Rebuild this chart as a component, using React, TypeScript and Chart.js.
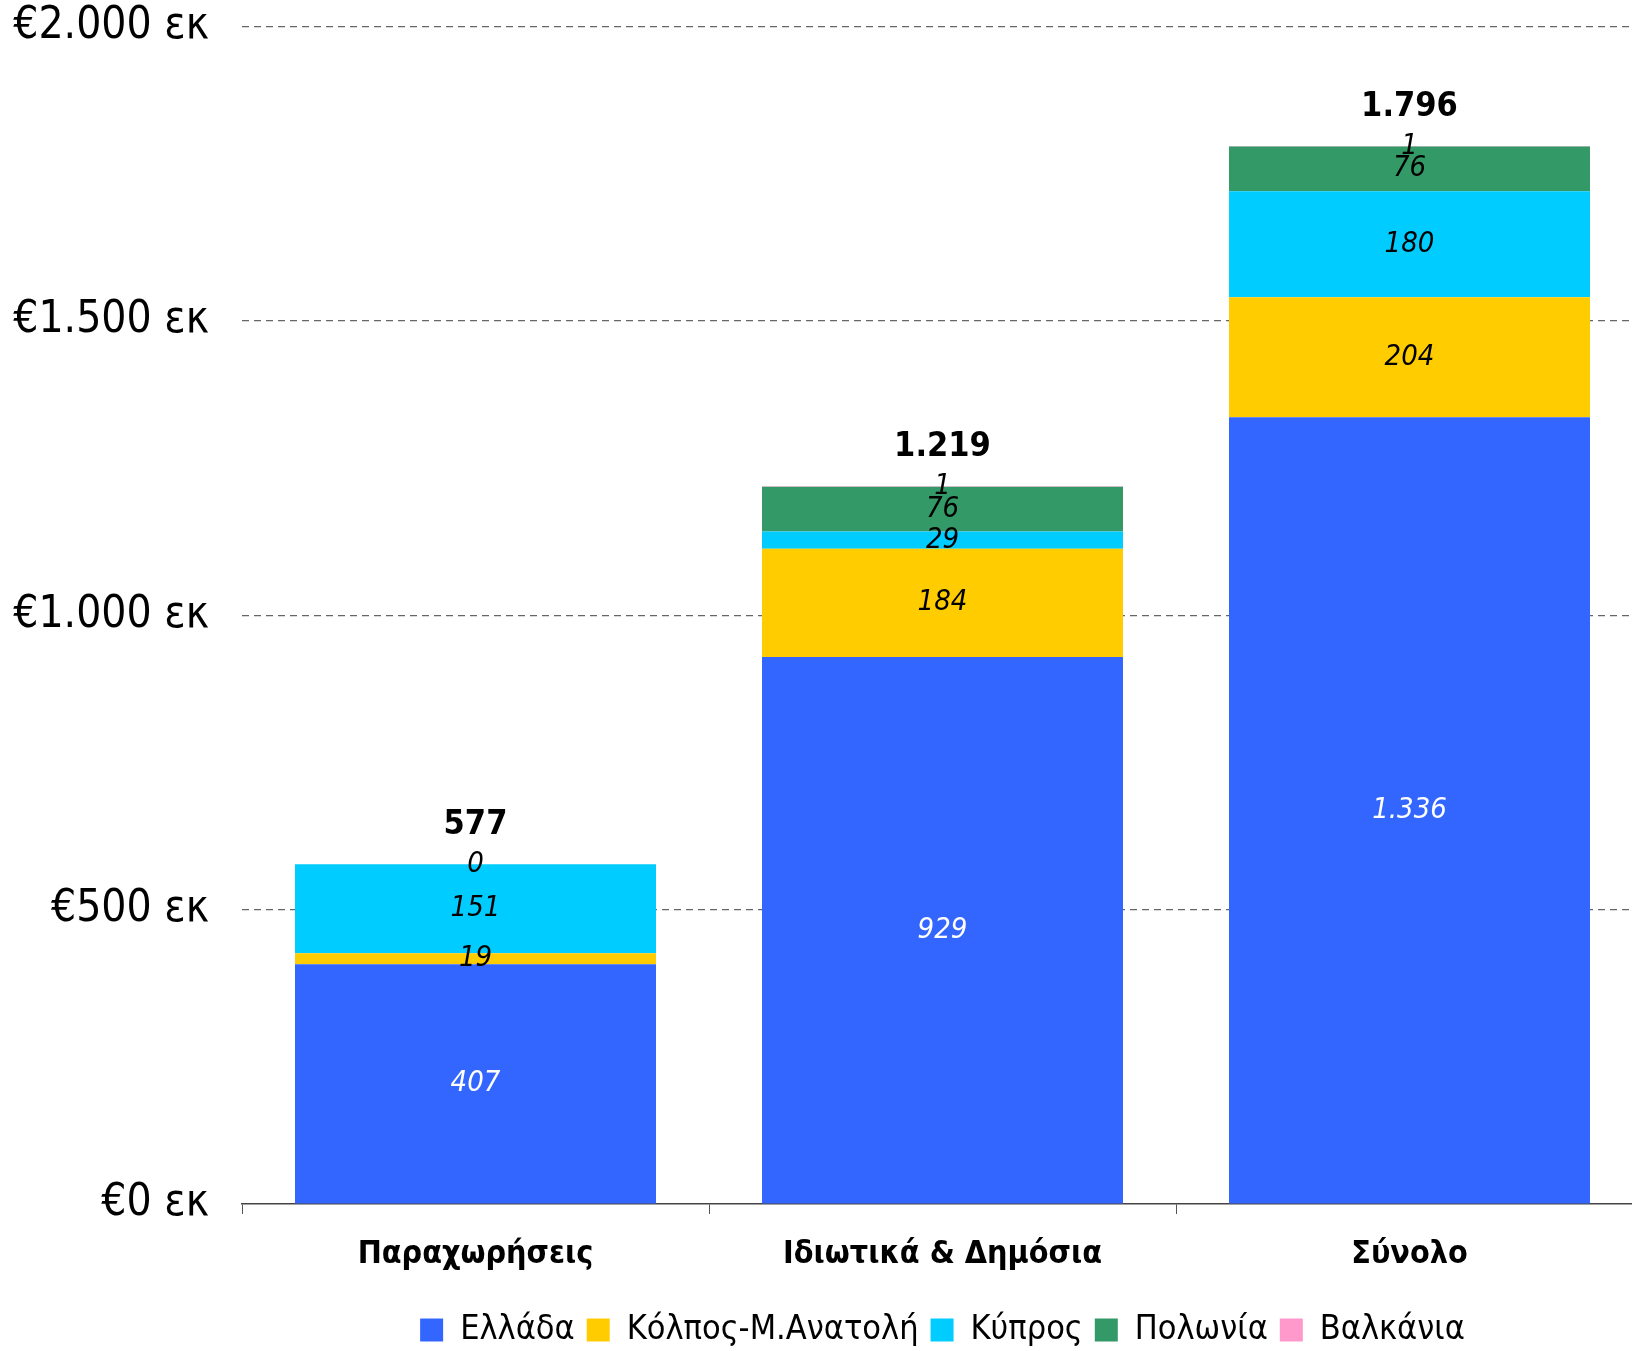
import React, { useEffect, useRef } from "react";
import { Chart, registerables } from "chart.js";

Chart.register(...registerables);

const categories = ["Παραχωρήσεις", "Ιδιωτικά & Δημόσια", "Σύνολο"];
const seriesNames = ["Ελλάδα", "Κόλπος-Μ.Ανατολή", "Κύπρος", "Πολωνία", "Βαλκάνια"];
const greece = [407, 929, 1336];
const gulf = [19, 184, 204];
const cyprus = [151, 29, 180];
const poland = [0, 76, 76];
const balkans = [null, 1, 1];
const totals = [577, 1219, 1796];
const yTicks = [0, 500, 1000, 1500, 2000];

const colors = ["#3366FF", "#FFCC00", "#00CCFF", "#339966", "#FF99CC"];
const labelColors = ["#FFFFFF", "#000000", "#000000", "#000000", "#000000"];

const FONT = "'DejaVu Sans Condensed', 'DejaVu Sans', sans-serif";

const fmt = (v: number) =>
  String(Math.round(v)).replace(/\B(?=(\d{3})+(?!\d))/g, ".");

const labelsPlugin = {
  id: "segLabels",
  afterDatasetsDraw(chart: any) {
    const ctx = chart.ctx;
    ctx.save();
    ctx.textAlign = "center";
    ctx.textBaseline = "middle";
    chart.data.datasets.forEach((ds: any, di: number) => {
      const meta = chart.getDatasetMeta(di);
      meta.data.forEach((bar: any, i: number) => {
        const v = ds.data[i];
        if (v === null || v === undefined) return;
        const { x, y, base } = bar.getProps(["x", "y", "base"], true);
        ctx.font = `italic 29px ${FONT}`;
        ctx.fillStyle = labelColors[di];
        ctx.fillText(fmt(v), x, (y + base) / 2);
      });
    });
    const yScale = chart.scales.y;
    const meta0 = chart.getDatasetMeta(0);
    ctx.font = `bold 34px ${FONT}`;
    ctx.fillStyle = "#000";
    totals.forEach((t, i) => {
      const bar = meta0.data[i];
      const x = bar.getProps(["x"], true).x;
      ctx.fillText(fmt(t), x, yScale.getPixelForValue(t) - 39);
    });
    ctx.restore();
  },
};

export default function App() {
  const ref = useRef<HTMLCanvasElement>(null);
  useEffect(() => {
    if (!ref.current) return;
    Chart.defaults.font.family = FONT;
    const series = [greece, gulf, cyprus, poland, balkans];
    const chart = new Chart(ref.current, {
      type: "bar",
      data: {
        labels: categories,
        datasets: series.map((d, i) => ({
          label: seriesNames[i],
          data: d as any,
          backgroundColor: colors[i],
          borderWidth: 0,
          categoryPercentage: 1,
          barPercentage: 0.773,
        })),
      },
      options: {
        responsive: false,
        animation: false,
        devicePixelRatio: 1,
        layout: { padding: { left: 0, right: 241, top: 0, bottom: 0 } },
        plugins: {
          legend: {
            position: "bottom",
            fullSize: false,
            labels: {
              boxWidth: 23,
              boxHeight: 23,
              padding: 12,
              color: "#000",
              font: { size: 34, family: FONT },
            },
          },
          tooltip: { enabled: false },
        },
        scales: {
          x: {
            stacked: true,
            offset: true,
            grid: {
              offset: true,
              drawOnChartArea: false,
              drawTicks: true,
              tickLength: 10,
              color: "#555",
            },
            border: { display: true, color: "#444", width: 1.5 },
            ticks: {
              color: "#000",
              padding: 21,
              font: { size: 32, weight: "bold", family: FONT },
            },
            afterFit: (s: any) => {
              s.height = 97;
            },
          },
          y: {
            stacked: true,
            min: 0,
            max: 2000,
            afterBuildTicks: (s: any) => {
              s.ticks = yTicks.map((v) => ({ value: v }));
            },
            grid: {
              drawTicks: false,
              color: (c: any) => (c.tick && c.tick.value === 0 ? "rgba(0,0,0,0)" : "#666"),
              lineWidth: 1.2,
            },
            border: { display: false, dash: [7, 5] },
            ticks: {
              color: "#000",
              padding: 33,
              font: { size: 44, family: FONT },
              callback: (v: any) => `€${fmt(Number(v))} εκ`,
            },
            afterFit: (s: any) => {
              s.width = 242;
            },
          },
        },
      },
      plugins: [labelsPlugin],
    });
    return () => chart.destroy();
  }, []);

  return (
    <div
      style={{
        position: "fixed",
        left: 0,
        top: 0,
        width: 1632,
        height: 1351,
        overflow: "hidden",
        background: "#fff",
      }}
    >
      <canvas
        ref={ref}
        width={1884}
        height={1390}
        style={{ display: "block", marginTop: -33 }}
      />
    </div>
  );
}
